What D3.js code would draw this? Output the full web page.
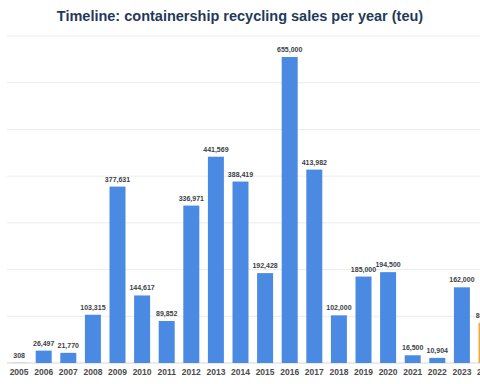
<!DOCTYPE html>
<html>
<head>
<meta charset="utf-8">
<script src="https://cdn.jsdelivr.net/npm/d3@7"></script>
<style>
  body { margin: 0; background: #fff; }
  svg { display: block; font-family: "Liberation Sans", Arial, sans-serif; }
</style>
</head>
<body>
<div id="container"></div>
<script>
const years = ["2005","2006","2007","2008","2009","2010","2011","2012","2013","2014",
  "2015","2016","2017","2018","2019","2020","2021","2022","2023","2024"];
const sales = [308, 26497, 21770, 103315, 377631, 144617, 89852, 336971, 441569, 388419,
  192428, 655000, 413982, 102000, 185000, 194500, 16500, 10904, 162000, 86000];
const labels = ["308","26,497","21,770","103,315","377,631","144,617","89,852","336,971","441,569","388,419",
  "192,428","655,000","413,982","102,000","185,000","194,500","16,500","10,904","162,000","86,000"];
const gridTicks = [0, 100000, 200000, 300000, 400000, 500000, 600000, 700000];
const highlightYear = "2024";

const width = 480;
const height = 384;

const svg = d3.select("#container")
  .append("svg")
  .attr("width", width)
  .attr("height", height);

const x = d3.scaleBand()
  .domain(years)
  .range([6.8, 6.8 + 24.6 * years.length])
  .paddingInner(0.35)
  .paddingOuter(0.175);

const y = d3.scaleLinear()
  .domain([0, 700000])
  .range([363, 36]);

// gridlines
svg.append("g")
  .selectAll("line")
  .data(gridTicks)
  .enter()
  .append("line")
  .attr("x1", 7)
  .attr("x2", width)
  .attr("y1", d => y(d))
  .attr("y2", d => y(d))
  .attr("stroke", d => d === 0 ? "#d6d6d6" : "#ececec")
  .attr("stroke-width", 1);

// bars
svg.append("g")
  .selectAll("rect")
  .data(years)
  .enter()
  .append("rect")
  .attr("x", d => x(d))
  .attr("y", (d, i) => y(sales[i]))
  .attr("width", x.bandwidth())
  .attr("height", (d, i) => y(0) - y(sales[i]))
  .attr("fill", d => d === highlightYear ? "#f2a93b" : "#4a8ae2");

// value labels
svg.append("g")
  .selectAll("text")
  .data(years)
  .enter()
  .append("text")
  .attr("x", d => x(d) + x.bandwidth() / 2)
  .attr("y", (d, i) => y(sales[i]) - 5)
  .attr("text-anchor", "middle")
  .style("font-size", "7px")
  .style("font-weight", "bold")
  .style("fill", "#3a3f47")
  .text((d, i) => labels[i]);

// x axis labels
const xAxis = svg.append("g")
  .attr("transform", `translate(0,${y(0)})`)
  .call(d3.axisBottom(x).tickSize(0).tickPadding(12));
xAxis.select(".domain").remove();
xAxis.selectAll("text")
  .attr("dy", 0)
  .style("font-size", "8.5px")
  .style("font-weight", "bold")
  .style("font-family", "\"Liberation Sans\", Arial, sans-serif")
  .style("fill", "#4a4a4a");

// title
svg.append("text")
  .attr("x", 240)
  .attr("y", 21)
  .attr("text-anchor", "middle")
  .style("font-size", "14.5px")
  .style("font-weight", "bold")
  .style("fill", "#1f3a5a")
  .text("Timeline: containership recycling sales per year (teu)");
</script>
</body>
</html>
